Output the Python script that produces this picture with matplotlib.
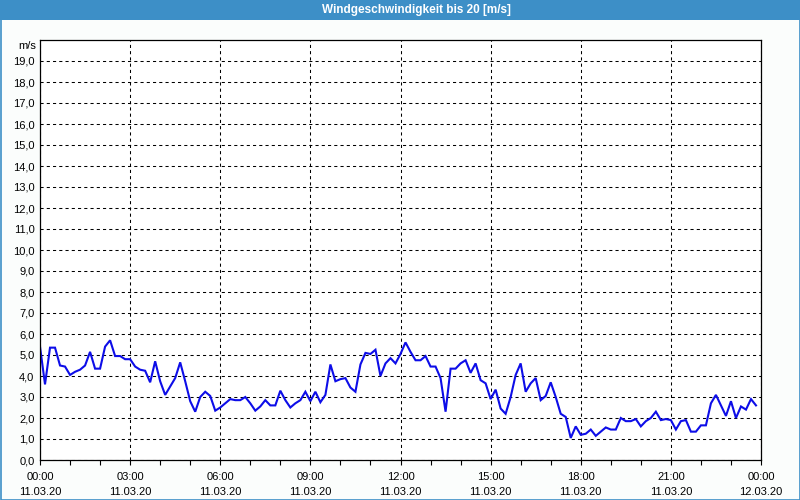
from matplotlib import pyplot as plt
from matplotlib.patches import Rectangle
from matplotlib.ticker import MultipleLocator
import numpy as np

# Windgeschwindigkeit, 10-Minuten-Werte vom 11.03.20 (00:00 bis 23:50)
wind = [5.4, 3.6, 5.35, 5.35, 4.5, 4.45, 4.05, 4.2, 4.3, 4.5,
        5.15, 4.35, 4.35, 5.4, 5.7, 4.95, 4.95, 4.8, 4.8, 4.45,
        4.3, 4.25, 3.7, 4.7, 3.75, 3.1, 3.5, 3.9, 4.65, 3.75,
        2.8, 2.3, 3.0, 3.25, 3.05, 2.35, 2.5, 2.7, 2.9, 2.85,
        2.85, 3.0, 2.7, 2.35, 2.55, 2.85, 2.6, 2.6, 3.3, 2.85,
        2.5, 2.7, 2.85, 3.25, 2.8, 3.25, 2.75, 3.1, 4.55, 3.75,
        3.85, 3.9, 3.45, 3.25, 4.55, 5.1, 5.05, 5.25, 4.0, 4.6,
        4.85, 4.6, 5.05, 5.6, 5.15, 4.75, 4.75, 4.95, 4.45, 4.45,
        3.9, 2.3, 4.35, 4.35, 4.6, 4.75, 4.15, 4.6, 3.8, 3.65,
        2.9, 3.35, 2.45, 2.2, 3.0, 4.05, 4.6, 3.25, 3.65, 3.9,
        2.85, 3.05, 3.7, 3.0, 2.2, 2.05, 1.05, 1.6, 1.2, 1.25,
        1.45, 1.15, 1.35, 1.55, 1.45, 1.45, 2.0, 1.85, 1.85, 1.95,
        1.6, 1.85, 2.0, 2.3, 1.9, 1.95, 1.9, 1.45, 1.85, 1.9,
        1.35, 1.35, 1.65, 1.65, 2.7, 3.1, 2.6, 2.1, 2.8, 2.0,
        2.55, 2.4, 2.9, 2.6]
stunden = np.arange(len(wind)) / 6.0  # Stunden ab 00:00

x_ticks = [0, 3, 6, 9, 12, 15, 18, 21, 24]
x_labels = ["00:00\n11.03.20", "03:00\n11.03.20", "06:00\n11.03.20",
            "09:00\n11.03.20", "12:00\n11.03.20", "15:00\n11.03.20",
            "18:00\n11.03.20", "21:00\n11.03.20", "00:00\n12.03.20"]
y_ticks = list(range(20))
y_labels = ["%d,0" % v for v in y_ticks]

titel = "Windgeschwindigkeit bis 20 [m/s]"
blau = '#3d8fc7'

plt.rcParams['font.family'] = ['Liberation Sans', 'DejaVu Sans']

fig = plt.figure(figsize=(8, 5), dpi=100, facecolor='#fbfdfc')
ax = fig.add_axes([40/800, 40/500, 721/800, 420/500])

ax.plot(stunden, wind, color='#0d0de8', lw=1.5, solid_joinstyle='miter')

ax.set_xlim(0, 24)
ax.set_ylim(0, 20)
ax.set_xticks(x_ticks)
ax.set_xticklabels(x_labels, fontsize=8, linespacing=1.6)
ax.xaxis.set_minor_locator(MultipleLocator(1))
ax.set_yticks(y_ticks)
ax.set_yticklabels(y_labels, fontsize=8)

ax.tick_params(axis='x', which='both', direction='out', length=3.5, width=0.8, pad=5)
ax.tick_params(axis='y', which='both', length=0, pad=4)
ax.grid(True, which='major', color='k', linestyle=(0, (3, 3)), linewidth=0.75)
for s in ax.spines.values():
	s.set_linewidth(0.9)
ax.set_facecolor('white')

ax.text(-4/721, 1.0 - 6/420, "m/s", transform=ax.transAxes, ha='right', va='center', fontsize=8)

# Titelleiste und Rahmen
fig.patches.append(Rectangle((0, 480/500), 1, 20/500, transform=fig.transFigure,
                             facecolor=blau, edgecolor='none', zorder=0))
fig.patches.append(Rectangle((0.5/800, 0.5/500), 799/800, 499/500, transform=fig.transFigure,
                             facecolor='none', edgecolor=blau, lw=1.2, zorder=5))
fig.text(416/800, 1 - 10.5/500, titel, ha='center', va='center', color='white',
         fontsize=8.5, fontweight='bold')

plt.savefig("out.png", dpi=100, facecolor=fig.get_facecolor())
